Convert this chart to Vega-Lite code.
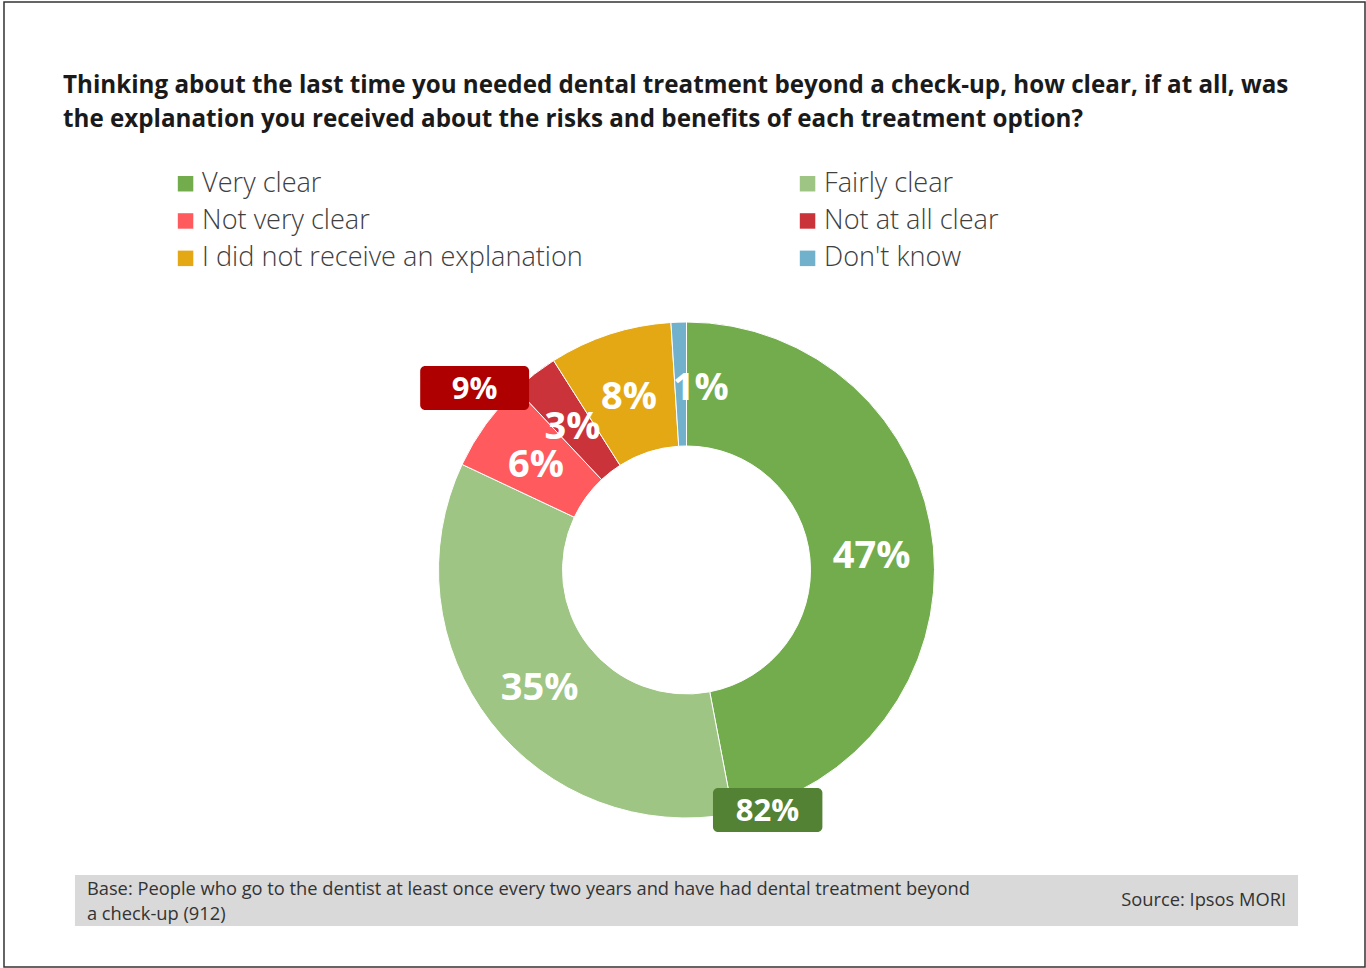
{
  "$schema": "https://vega.github.io/schema/vega-lite/v6.json",
  "width": 1366,
  "height": 968,
  "autosize": {"type": "fit", "contains": "padding"},
  "padding": 0,
  "background": "white",
  "title": {
    "text": ["Thinking about the last time you needed dental treatment beyond a check-up, how clear, if at all, was", "the explanation you received about the risks and benefits of each treatment option?"],
    "anchor": "start",
    "frame": "group",
    "orient": "top",
    "baseline": "alphabetic",
    "offset": -151,
    "dx": 63,
    "font": "Open Sans",
    "fontSize": 24.2,
    "fontWeight": "bold",
    "color": "#1a1a1a",
    "lineHeight": 34
  },
  "config": {"view": {"stroke": null}, "font": "Open Sans"},
  "data": {
    "values": [
      {"category": "Very clear", "value": 0.47, "order": 1},
      {"category": "Fairly clear", "value": 0.35, "order": 2},
      {"category": "Not very clear", "value": 0.06, "order": 3},
      {"category": "Not at all clear", "value": 0.03, "order": 4},
      {"category": "I did not receive an explanation", "value": 0.08, "order": 5},
      {"category": "Don't know", "value": 0.01, "order": 6}
    ]
  },
  "layer": [
    {
      "data": {"values": [{"frame": "border"}]},
      "mark": {"type": "rect", "fillOpacity": 0, "stroke": "#333333", "strokeWidth": 1.5},
      "encoding": {
        "x": {"datum": 4, "type": "quantitative", "scale": {"domain": [0, 1366], "nice": false, "zero": false}, "axis": null},
        "x2": {"datum": 1366},
        "y": {"datum": 2, "type": "quantitative", "scale": {"domain": [0, 968], "nice": false, "zero": false, "reverse": true}, "axis": null},
        "y2": {"datum": 967}
      }
    },
    {
      "data": {"values": [{"base": "Base: People who go to the dentist at least once every two years and have had dental treatment beyond\na check-up (912)", "source": "Source: Ipsos MORI"}]},
      "layer": [
        {
          "mark": {"type": "rect", "fill": "#d9d9d9"},
          "encoding": {
            "x": {"datum": 75, "type": "quantitative", "scale": {"domain": [0, 1366], "nice": false, "zero": false}, "axis": null},
            "x2": {"datum": 1299},
            "y": {"datum": 875, "type": "quantitative", "scale": {"domain": [0, 968], "nice": false, "zero": false, "reverse": true}, "axis": null},
            "y2": {"datum": 926}
          }
        },
        {
          "mark": {"type": "text", "align": "left", "baseline": "alphabetic", "fontSize": 18.3, "fill": "#333333", "lineBreak": "\n", "lineHeight": 24.5},
          "encoding": {
            "x": {"datum": 87, "type": "quantitative", "scale": {"domain": [0, 1366], "nice": false, "zero": false}, "axis": null},
            "y": {"datum": 895, "type": "quantitative", "scale": {"domain": [0, 968], "nice": false, "zero": false, "reverse": true}, "axis": null},
            "text": {"field": "base"}
          }
        },
        {
          "mark": {"type": "text", "align": "right", "baseline": "alphabetic", "fontSize": 18.3, "fill": "#333333"},
          "encoding": {
            "x": {"datum": 1287, "type": "quantitative", "scale": {"domain": [0, 1366], "nice": false, "zero": false}, "axis": null},
            "y": {"datum": 906, "type": "quantitative", "scale": {"domain": [0, 968], "nice": false, "zero": false, "reverse": true}, "axis": null},
            "text": {"field": "source"}
          }
        }
      ]
    },
    {
      "mark": {"type": "arc", "outerRadius": 248, "innerRadius": 124, "stroke": "white", "strokeWidth": 1},
      "encoding": {
        "x": {"datum": 687, "type": "quantitative", "scale": {"domain": [0, 1366], "nice": false, "zero": false}, "axis": null},
        "y": {"datum": 570, "type": "quantitative", "scale": {"domain": [0, 968], "nice": false, "zero": false, "reverse": true}, "axis": null},
        "theta": {"field": "value", "type": "quantitative", "stack": true},
        "order": {"field": "order", "type": "quantitative"},
        "color": {
          "field": "category",
          "type": "nominal",
          "scale": {
            "domain": ["Very clear", "Fairly clear", "Not very clear", "Not at all clear", "I did not receive an explanation", "Don't know"],
            "range": ["#72AC4D", "#9EC584", "#FF5B5F", "#CB333B", "#E5A815", "#71B1CB"]
          },
          "legend": {
            "title": null,
            "orient": "none",
            "direction": "horizontal",
            "legendX": 172,
            "legendY": 170,
            "columns": 2,
            "columnPadding": 211,
            "rowPadding": 9.4,
            "padding": 0,
            "symbolType": "square",
            "symbolSize": 240,
            "symbolStrokeWidth": 0,
            "symbolOpacity": 1,
            "labelFont": "Open Sans",
            "labelFontSize": 27.1,
            "labelFontWeight": 300,
            "labelColor": "#404040",
            "labelOffset": 3,
            "labelLimit": 0
          }
        }
      }
    },
    {
      "mark": {"type": "text", "radius": 186, "fontSize": 38, "fontWeight": "bold", "fill": "white", "align": "center", "baseline": "middle", "dy": 5},
      "encoding": {
        "x": {"datum": 687, "type": "quantitative", "scale": {"domain": [0, 1366], "nice": false, "zero": false}, "axis": null},
        "y": {"datum": 570, "type": "quantitative", "scale": {"domain": [0, 968], "nice": false, "zero": false, "reverse": true}, "axis": null},
        "theta": {"field": "value", "type": "quantitative", "stack": true},
        "order": {"field": "order", "type": "quantitative"},
        "detail": {"field": "category"},
        "text": {"condition": {"test": "datum.category === \"Don't know\"", "value": ""}, "field": "value", "format": ".0%"}
      }
    },
    {
      "mark": {"type": "text", "radius": 186, "fontSize": 38, "fontWeight": "bold", "fill": "white", "align": "center", "baseline": "middle", "dx": 20, "dy": 5},
      "encoding": {
        "x": {"datum": 687, "type": "quantitative", "scale": {"domain": [0, 1366], "nice": false, "zero": false}, "axis": null},
        "y": {"datum": 570, "type": "quantitative", "scale": {"domain": [0, 968], "nice": false, "zero": false, "reverse": true}, "axis": null},
        "theta": {"field": "value", "type": "quantitative", "stack": true},
        "order": {"field": "order", "type": "quantitative"},
        "detail": {"field": "category"},
        "text": {"condition": {"test": "datum.category !== \"Don't know\"", "value": ""}, "field": "value", "format": ".0%"}
      }
    },
    {
      "data": {"values": [{"net": "Not clear", "value": 0.09}]},
      "layer": [
        {
          "mark": {"type": "rect", "fill": "#AE0000", "cornerRadius": 5},
          "encoding": {
            "x": {"datum": 420.5, "type": "quantitative", "scale": {"domain": [0, 1366], "nice": false, "zero": false}, "axis": null},
            "x2": {"datum": 529.5},
            "y": {"datum": 366, "type": "quantitative", "scale": {"domain": [0, 968], "nice": false, "zero": false, "reverse": true}, "axis": null},
            "y2": {"datum": 410}
          }
        },
        {
          "mark": {"type": "text", "fontSize": 31, "fontWeight": "bold", "fill": "white", "align": "center", "baseline": "middle", "dy": 2},
          "encoding": {
            "x": {"datum": 475, "type": "quantitative", "scale": {"domain": [0, 1366], "nice": false, "zero": false}, "axis": null},
            "y": {"datum": 388, "type": "quantitative", "scale": {"domain": [0, 968], "nice": false, "zero": false, "reverse": true}, "axis": null},
            "text": {"field": "value", "format": ".0%"}
          }
        }
      ]
    },
    {
      "data": {"values": [{"net": "Clear", "value": 0.82}]},
      "layer": [
        {
          "mark": {"type": "rect", "fill": "#548235", "cornerRadius": 5},
          "encoding": {
            "x": {"datum": 713.5, "type": "quantitative", "scale": {"domain": [0, 1366], "nice": false, "zero": false}, "axis": null},
            "x2": {"datum": 823},
            "y": {"datum": 788, "type": "quantitative", "scale": {"domain": [0, 968], "nice": false, "zero": false, "reverse": true}, "axis": null},
            "y2": {"datum": 832}
          }
        },
        {
          "mark": {"type": "text", "fontSize": 31, "fontWeight": "bold", "fill": "white", "align": "center", "baseline": "middle", "dy": 2},
          "encoding": {
            "x": {"datum": 768, "type": "quantitative", "scale": {"domain": [0, 1366], "nice": false, "zero": false}, "axis": null},
            "y": {"datum": 810, "type": "quantitative", "scale": {"domain": [0, 968], "nice": false, "zero": false, "reverse": true}, "axis": null},
            "text": {"field": "value", "format": ".0%"}
          }
        }
      ]
    }
  ]
}
